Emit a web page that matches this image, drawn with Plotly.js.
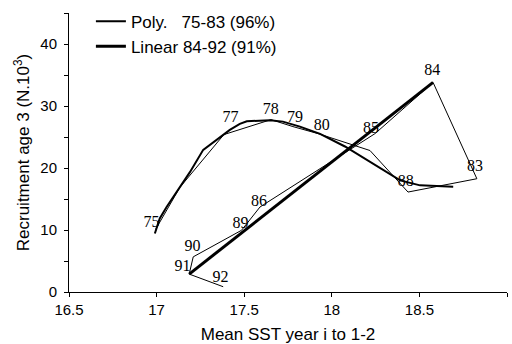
<!DOCTYPE html>
<html>
<head>
<meta charset="utf-8">
<script src="https://cdn.plot.ly/plotly-3.0.1.min.js"></script>
<style>html,body{margin:0;padding:0;background:#fff;}#chart{width:512px;height:344px;}</style>
</head>
<body>
<div id="chart"></div>
<script>
// Observed year-to-year trajectory (thin line)
const obsYears = ["75","76","77","78","79","80","81","82","83","84","85","86","89","90","91","92"];
const obsSST   = [16.995,17.133,17.384,17.653,17.778,17.921,18.218,18.435,18.828,18.578,18.247,17.590,17.485,17.209,17.186,17.380];
const obsRec   = [10.13,16.88,25.39,27.80,26.68,25.55,22.82,16.12,18.27,33.80,25.55,13.71,9.96,5.67,2.89,0.85];

// Polynomial fit 75-83
const polySST = [16.990,17.018,17.057,17.094,17.133,17.190,17.266,17.371,17.418,17.475,17.515,17.647,17.721,17.818,17.933,18.075,18.218,18.390,18.504,18.693];
const polyRec = [9.43,11.85,13.71,15.32,16.83,19.33,22.93,25.07,26.15,27.11,27.53,27.72,27.48,26.68,25.51,23.47,21.05,18.00,17.20,16.96];

// Linear fit 84-92
const linSST = [17.186,18.578];
const linRec = [2.89,33.80];

// Year labels as printed on the chart
const labelText = ["75","77","78","79","80","85","88","83","84","86","89","90","91","92"];
const labelSST  = [16.971,17.422,17.651,17.790,17.942,18.224,18.422,18.818,18.574,17.584,17.479,17.205,17.148,17.365];
const labelRec  = [11.14,28.08,29.41,28.08,26.84,26.31,17.73,20.14,35.57,14.51,10.93,7.18,4.07,2.20];

const xTicks = [16.5,17,17.5,18,18.5,19];

const traces = [
  {x: obsSST, y: obsRec, mode: 'lines', line: {color: '#000', width: 1}, showlegend: false, hoverinfo: 'skip'},
  {x: polySST, y: polyRec, mode: 'lines', name: 'Poly.\u00A0\u00A0\u00A075-83 (96%)', line: {color: '#000', width: 2}},
  {x: linSST, y: linRec, mode: 'lines', name: 'Linear 84-92 (91%)', line: {color: '#000', width: 3}},
  {x: labelSST, y: labelRec, mode: 'text', text: labelText, textposition: 'middle center',
   textfont: {family: 'Liberation Serif, serif', size: 16, color: '#000'}, showlegend: false, hoverinfo: 'skip', cliponaxis: false}
];

const layout = {
  width: 512, height: 344,
  margin: {l: 69, r: 5, t: 12, b: 52},
  paper_bgcolor: '#fff', plot_bgcolor: '#fff',
  font: {family: 'Liberation Sans, Arial, sans-serif', color: '#000', size: 15},
  showlegend: true,
  legend: {x: 0.05, y: 1.03, xanchor: 'left', yanchor: 'top', bgcolor: 'rgba(0,0,0,0)',
           font: {size: 17, color: '#000'}, tracegroupgap: 0},
  xaxis: {range: [16.5, 19], tickvals: xTicks, ticktext: xTicks.map(String),
          ticks: 'outside', ticklen: 4, tickcolor: '#000', showline: true, linecolor: '#000', linewidth: 1,
          showgrid: false, zeroline: false, tickfont: {size: 15},
          title: {text: 'Mean SST year i to 1-2', font: {size: 17}, standoff: 12}},
  yaxis: {range: [0, 45], tick0: 0, dtick: 10, ticks: 'outside', ticklen: 4, tickcolor: '#000',
          minor: {dtick: 5, ticks: 'outside', ticklen: 4, tickcolor: '#000'},
          showline: true, linecolor: '#000', linewidth: 1, showgrid: false, zeroline: false,
          tickfont: {size: 15}, ticklabelstandoff: 4,
          title: {text: 'Recruitment age 3 (N.10<sup>3</sup>)', font: {size: 17}, standoff: 6}}
};

Plotly.newPlot('chart', traces, layout, {staticPlot: true, displayModeBar: false});
</script>
</body>
</html>
